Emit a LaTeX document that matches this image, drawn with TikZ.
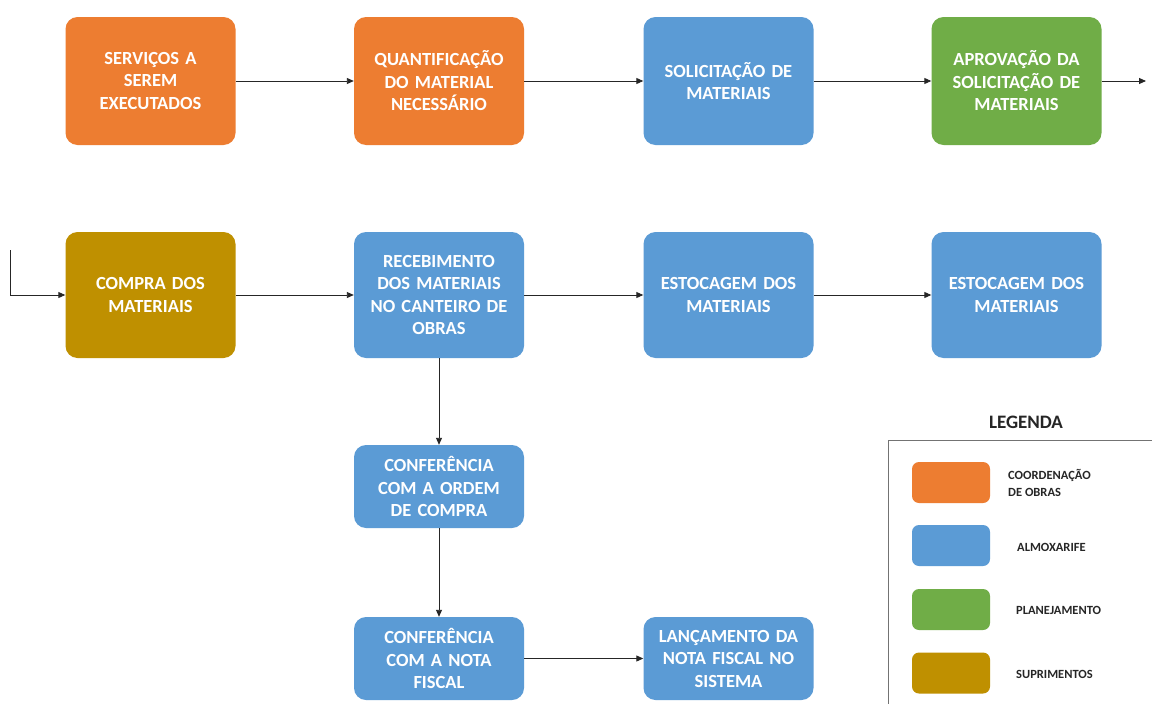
\documentclass[tikz,border=0pt]{standalone}
\usepackage{fontspec}
\setmainfont{Carlito}
\newfontfamily\boxfamily[WordSpace=0.7]{Carlito}
\usetikzlibrary{arrows.meta}
\definecolor{coord}{HTML}{ED7D31}
\definecolor{almox}{HTML}{5B9BD5}
\definecolor{plan}{HTML}{70AD47}
\definecolor{supr}{HTML}{BF9000}
\tikzset{
  stepbox/.style={rounded corners=12pt, minimum width=170pt, text width=164pt,
    align=center, text=white, font=\boxfamily\fontsize{18.5}{22.5}\selectfont\bfseries, inner sep=0pt},
  tallbox/.style={stepbox, minimum height=128pt},
  shortbox/.style={stepbox, minimum height=83pt},
  flow/.style={draw=black!85, line width=0.9pt, -{Triangle[length=7pt,width=6pt]}},
  swatch/.style={rounded corners=7pt, minimum width=78pt, minimum height=41pt, inner sep=0pt},
  legtext/.style={anchor=west, align=left, font=\fontsize{12.5}{17}\selectfont\bfseries, text=black!85, inner sep=0pt}
}
\begin{document}
\begin{tikzpicture}[x=1pt,y=-1pt]
\useasboundingbox (0,0) rectangle (1152,704);
\fill[white] (0,0) rectangle (1152,704);

% first row
\node[tallbox, fill=coord] (srv) at (150.5,81) {SERVIÇOS A\\SEREM\\EXECUTADOS};
\node[tallbox, fill=coord] (qtd) at (439,81) {QUANTIFICAÇÃO\\DO MATERIAL\\NECESSÁRIO};
\node[tallbox, fill=almox] (sol) at (728.5,81) {SOLICITAÇÃO DE\\MATERIAIS};
\node[tallbox, fill=plan] (apr) at (1016.5,81) {APROVAÇÃO DA\\SOLICITAÇÃO DE\\MATERIAIS};

% second row
\node[tallbox, fill=supr, minimum height=126pt] (cmp) at (150.5,295) {COMPRA DOS\\MATERIAIS};
\node[tallbox, fill=almox, minimum height=126pt] (rec) at (439,295) {RECEBIMENTO\\DOS MATERIAIS\\NO CANTEIRO DE\\OBRAS};
\node[tallbox, fill=almox, minimum height=126pt] (est1) at (728.5,295) {ESTOCAGEM DOS\\MATERIAIS};
\node[tallbox, fill=almox, minimum height=126pt] (est2) at (1016.5,295) {ESTOCAGEM DOS\\MATERIAIS};

% checking column
\node[shortbox, fill=almox] (ord) at (439,486.5) {CONFERÊNCIA\\COM A ORDEM\\DE COMPRA};
\node[shortbox, fill=almox] (nf) at (439,658.5) {CONFERÊNCIA\\COM A NOTA\\FISCAL};
\node[shortbox, fill=almox] (lanc) at (728.5,658.5) {LANÇAMENTO DA\\NOTA FISCAL NO\\SISTEMA};

% connectors
\coordinate (out) at (1146,81);
\coordinate (inTop) at (10,250);
\coordinate (inCorner) at (10,295);
\draw[flow] (srv) -- (qtd);
\draw[flow] (qtd) -- (sol);
\draw[flow] (sol) -- (apr);
\draw[flow] (apr) -- (out);
\draw[flow] (inTop) -- (inCorner) -- (cmp);
\draw[flow] (cmp) -- (rec);
\draw[flow] (rec) -- (est1);
\draw[flow] (est1) -- (est2);
\draw[flow] (rec) -- (ord);
\draw[flow] (ord) -- (nf);
\draw[flow] (nf) -- (lanc);

% legend
\node[font=\fontsize{19}{22}\selectfont\bfseries, text=black!85] (legtitle) at (1026,422) {LEGENDA};
\coordinate (frameBL) at (888,704);
\coordinate (frameTL) at (888,440);
\coordinate (frameTR) at (1152,440);
\draw[black!55, line width=1pt] (frameBL) -- (frameTL) -- (frameTR);
\node[swatch, fill=coord] (swc) at (951,482.5) {};
\node[swatch, fill=almox] (swa) at (951,545.5) {};
\node[swatch, fill=plan] (swp) at (951,609.5) {};
\node[swatch, fill=supr] (sws) at (951,673) {};
\node[legtext] (lc) at (1008,483) {COORDENAÇÃO\\DE OBRAS};
\node[legtext] (la) at (1017,547) {ALMOXARIFE};
\node[legtext] (lp) at (1016,610) {PLANEJAMENTO};
\node[legtext] (ls) at (1016,674) {SUPRIMENTOS};
\end{tikzpicture}
\end{document}
